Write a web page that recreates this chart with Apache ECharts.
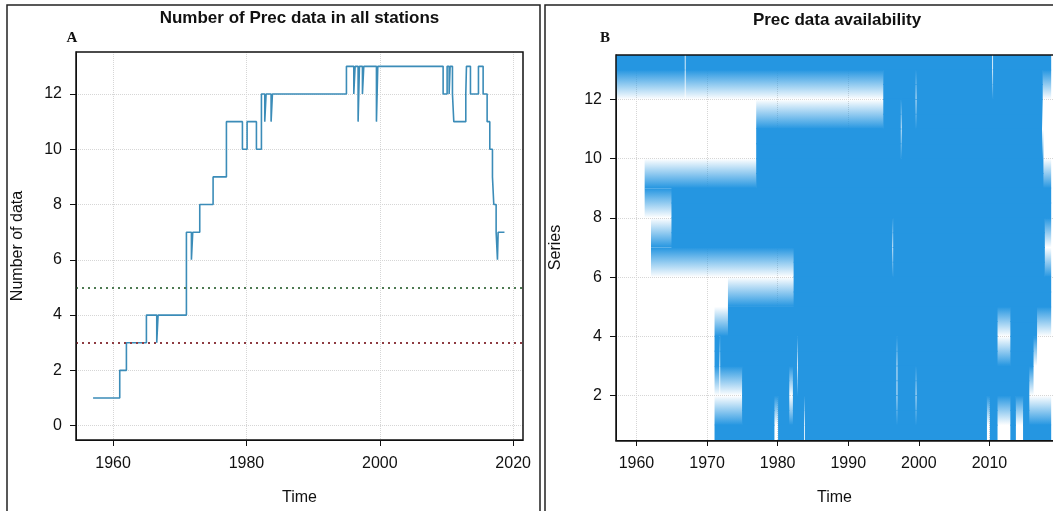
<!DOCTYPE html>
<html>
<head>
<meta charset="utf-8">
<script src="https://cdn.jsdelivr.net/npm/echarts@6/dist/echarts.min.js"></script>
<style>
  html, body { margin: 0; padding: 0; background: #fff; overflow: hidden; }
  #chart { width: 1053px; height: 511px; }
</style>
</head>
<body>
<div id="chart"></div>
<script>
// panel A: number of stations reporting, change points of the step line
var stepYears = [1957.0, 1961.0, 1962.0, 1965.0, 1966.55, 1966.75, 1971.0, 1971.75, 1971.95, 1973.0,
  1975.0, 1977.0, 1979.4, 1980.1, 1981.5, 1982.25, 1982.75, 1982.95, 1983.7, 1983.9,
  1995.0, 1996.1, 1996.3, 1996.75, 1996.95, 1997.4, 1997.6, 1999.5, 1999.7, 2009.5,
  2010.1, 2010.4, 2010.55, 2010.9, 2011.1, 2012.9, 2013.0, 2013.6, 2014.8, 2015.5,
  2016.1, 2016.5, 2016.9, 2017.1, 2017.45, 2017.65, 2017.75, 2018.7];
var stepCounts = [1, 2, 3, 4, 3, 4, 7, 6, 7, 8,
  9, 11, 10, 11, 10, 12, 11, 12, 11, 12,
  13, 12, 13, 11, 13, 12, 13, 11, 13, 12,
  13, 12, 13, 12, 11, 12, 13, 12, 13, 12,
  11, 10, 9, 8, 7, 6, 7, 7];
var limitGreen = 5;
var limitRed = 3;

// panel B: periods with data for each series (start, end)
var s1 = [[1971.1, 1979.5], [1980.1, 1983.7], [1983.9, 2009.6], [2010.1, 2011.1], [2013.0, 2013.7], [2014.8, 2018.7]];
var s2 = [[1975.0, 1981.6], [1982.2, 1996.8], [1997.0, 1999.5], [1999.7, 2015.6]];
var s3 = [[1971.1, 1971.7], [1971.9, 1982.7], [1982.9, 1996.8], [1997.0, 2016.2]];
var s4 = [[1971.1, 2011.1], [2013.0, 2016.7]];
var s5 = [[1973.0, 2018.7]];
var s6 = [[1982.3, 2018.7]];
var s7 = [[1962.1, 1996.2], [1996.4, 2017.8]];
var s8 = [[1965.0, 2018.7]];
var s9 = [[1961.2, 2018.7]];
var s10 = [[1977.0, 2017.6]];
var s11 = [[1977.0, 1997.4], [1997.6, 2017.4]];
var s12 = [[1995.0, 1999.5], [1999.7, 2017.5]];
var s13 = [[1957.0, 1966.8], [1967.0, 2010.35], [2010.55, 2018.7]];
var seriesAvail = [s1, s2, s3, s4, s5, s6, s7, s8, s9, s10, s11, s12, s13];

var xTicksA = [1960, 1980, 2000, 2020];
var yTicksA = [0, 2, 4, 6, 8, 10, 12];
var xTicksB = [1960, 1970, 1980, 1990, 2000, 2010, 2020];
var yTicksB = [2, 4, 6, 8, 10, 12];

var BLUE = '#2596e1';
var FONT = 'Liberation Sans, Arial, sans-serif';

var gridA = { left: 76, top: 52, width: 447, height: 388 };
var gridB = { left: 616, top: 55, width: 442, height: 386 };

function intersect(a, b) {
  var out = [];
  a.forEach(function (p) {
    b.forEach(function (q) {
      var lo = Math.max(p[0], q[0]), hi = Math.min(p[1], q[1]);
      if (hi > lo) out.push([lo, hi]);
    });
  });
  return out;
}
function subtract(a, b) {
  var out = [];
  a.forEach(function (p) {
    var parts = [[p[0], p[1]]];
    b.forEach(function (q) {
      var next = [];
      parts.forEach(function (s) {
        if (q[1] <= s[0] || q[0] >= s[1]) { next.push(s); return; }
        if (q[0] > s[0]) next.push([s[0], q[0]]);
        if (q[1] < s[1]) next.push([q[1], s[1]]);
      });
      parts = next;
    });
    out = out.concat(parts);
  });
  return out;
}

// image-like cells: solid half rows, fading to the centre of an empty neighbour row
var cells = [];
seriesAvail.forEach(function (iv, i) {
  var r = i + 1;
  var up = seriesAvail[i + 1], down = seriesAvail[i - 1];
  if (!up) {
    iv.forEach(function (p) { cells.push([p[0], p[1], r, r + 0.5, 0]); });
  } else {
    intersect(iv, up).forEach(function (p) { cells.push([p[0], p[1], r, r + 0.5, 0]); });
    subtract(iv, up).forEach(function (p) { cells.push([p[0], p[1], r, r + 1, 1]); });
  }
  if (!down) {
    iv.forEach(function (p) { cells.push([p[0], p[1], r - 0.5, r, 0]); });
  } else {
    intersect(iv, down).forEach(function (p) { cells.push([p[0], p[1], r - 0.5, r, 0]); });
    subtract(iv, down).forEach(function (p) { cells.push([p[0], p[1], r, r - 1, 1]); });
  }
});

var stepData = stepYears.map(function (y, i) { return [y, stepCounts[i]]; });

function axisCommon(ticks) {
  return {
    type: 'value',
    axisLine: { show: true, onZero: false, lineStyle: { color: '#111', width: 1 } },
    axisTick: { show: true, inside: false, length: 6, customValues: ticks, lineStyle: { color: '#111', width: 1 } },
    axisLabel: {
      customValues: ticks, fontSize: 16, color: '#111', fontFamily: FONT,
      formatter: function (v) { return String(v); }
    },
    splitLine: { show: true, lineStyle: { color: '#d6d6d6', type: 'dotted', width: 1 } },
    nameLocation: 'middle',
    nameTextStyle: { fontSize: 16, color: '#111', fontFamily: FONT }
  };
}

var xA = axisCommon(xTicksA);
Object.assign(xA, { gridIndex: 0, min: 1954.44, max: 2021.48, name: 'Time', nameGap: 50 });
xA.axisLabel.margin = 16;
var yA = axisCommon(yTicksA);
Object.assign(yA, { gridIndex: 0, min: -0.52, max: 13.52, name: 'Number of data', nameGap: 50 });
yA.axisLabel.margin = 14;
var xB = axisCommon(xTicksB);
Object.assign(xB, { gridIndex: 1, min: 1957.1, max: 2019, name: 'Time', nameGap: 50 });
xB.axisLabel.margin = 16;
var yB = axisCommon(yTicksB);
Object.assign(yB, { gridIndex: 1, min: 0.5, max: 13.5, name: 'Series', nameGap: 52 });
yB.axisLabel.margin = 14;

function boxRect(g) {
  return {
    type: 'rect', z: 100, silent: true,
    shape: { x: g.left, y: g.top, width: g.width, height: g.height },
    style: { fill: 'none', stroke: '#111', lineWidth: 1.5 }
  };
}

var chart = echarts.init(document.getElementById('chart'), null, { renderer: 'canvas' });
chart.setOption({
  animation: false,
  backgroundColor: '#fff',
  grid: [
    { left: gridA.left, top: gridA.top, width: gridA.width, height: gridA.height },
    { left: gridB.left, top: gridB.top, width: gridB.width, height: gridB.height }
  ],
  xAxis: [xA, xB],
  yAxis: [yA, yB],
  series: [
    {
      name: 'Number of data',
      type: 'line',
      xAxisIndex: 0, yAxisIndex: 0,
      step: 'end',
      showSymbol: false,
      data: stepData,
      lineStyle: { color: '#3b8cb8', width: 1.6 },
      markLine: {
        silent: true,
        symbol: 'none',
        label: { show: false },
        data: [
          { yAxis: limitGreen, lineStyle: { color: '#4d7a52', type: [2, 4], width: 2 } },
          { yAxis: limitRed, lineStyle: { color: '#8e3b42', type: [2, 4], width: 2 } }
        ]
      }
    },
    {
      name: 'Availability',
      type: 'custom',
      xAxisIndex: 1, yAxisIndex: 1,
      clip: true,
      encode: { x: [0, 1], y: [2, 3] },
      data: cells,
      renderItem: function (params, api) {
        var p0 = api.coord([api.value(0), api.value(2)]);
        var p1 = api.coord([api.value(1), api.value(3)]);
        var kind = api.value(4);
        var x = Math.min(p0[0], p1[0]), w = Math.abs(p1[0] - p0[0]);
        var y = Math.min(p0[1], p1[1]), h = Math.abs(p1[1] - p0[1]);
        var fill;
        if (kind === 0) {
          x -= 0.3; w += 0.6; y -= 0.5; h += 1;
          fill = BLUE;
        } else {
          x -= 0.3; w += 0.6;
          var topOpaque = p0[1] < p1[1];
          fill = {
            type: 'linear', x: 0, y: 0, x2: 0, y2: 1,
            colorStops: [
              { offset: 0, color: topOpaque ? 'rgba(37,150,225,1)' : 'rgba(37,150,225,0)' },
              { offset: 1, color: topOpaque ? 'rgba(37,150,225,0)' : 'rgba(37,150,225,1)' }
            ]
          };
        }
        return { type: 'rect', shape: { x: x, y: y, width: w, height: h }, style: { fill: fill } };
      }
    }
  ],
  graphic: [
    { type: 'rect', silent: true, shape: { x: 7, y: 5, width: 533, height: 520 }, style: { fill: 'none', stroke: '#222', lineWidth: 1.5 } },
    { type: 'rect', silent: true, shape: { x: 545, y: 5, width: 520, height: 520 }, style: { fill: 'none', stroke: '#222', lineWidth: 1.5 } },
    boxRect(gridA),
    boxRect(gridB),
    { type: 'text', x: gridA.left + gridA.width / 2, y: 18, style: { text: 'Number of Prec data in all stations', fontSize: 17, fontWeight: 'bold', fontFamily: FONT, fill: '#111', align: 'center', verticalAlign: 'middle' } },
    { type: 'text', x: gridB.left + gridB.width / 2, y: 20, style: { text: 'Prec data availability', fontSize: 17, fontWeight: 'bold', fontFamily: FONT, fill: '#111', align: 'center', verticalAlign: 'middle' } },
    { type: 'text', x: 72, y: 38, style: { text: 'A', fontSize: 15, fontWeight: 'bold', fontFamily: 'Liberation Serif, serif', fill: '#111', align: 'center', verticalAlign: 'middle' } },
    { type: 'text', x: 605, y: 38, style: { text: 'B', fontSize: 15, fontWeight: 'bold', fontFamily: 'Liberation Serif, serif', fill: '#111', align: 'center', verticalAlign: 'middle' } }
  ]
});
</script>
</body>
</html>
